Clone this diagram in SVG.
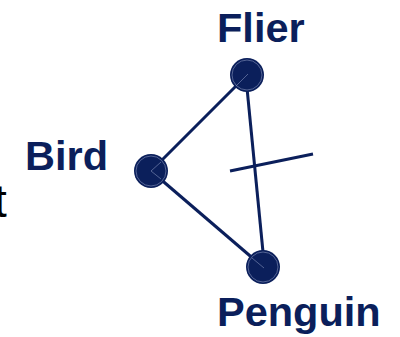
<svg xmlns="http://www.w3.org/2000/svg" width="400" height="337" viewBox="0 0 400 337">
<style>
.lbl{font-family:"Liberation Sans",Arial,sans-serif;font-weight:bold;font-size:41.5px;fill:#0b1f5b}
.edge{stroke:#0b1f5b;stroke-width:3;fill:none;stroke-linecap:butt}
.node{fill:#0b1f5b}
.ring{fill:none;stroke:#8e9bc2;stroke-width:0.7;opacity:0.8}
.inner{stroke:#8e9bc2;stroke-width:0.7;opacity:0.8;fill:none}
</style>
<rect width="400" height="337" fill="#ffffff"/>
<text x="-6" y="217" style="font-family:'Liberation Sans',Arial,sans-serif;font-size:46px;fill:#000">t</text>
<g id="connectors">
<line class="edge" x1="151" y1="171" x2="247" y2="75"/>
<line class="edge" x1="151" y1="171" x2="263" y2="267"/>
<line class="edge" x1="247" y1="88" x2="263" y2="252"/>
<line class="edge" x1="230" y1="171" x2="313" y2="154"/>
</g>
<g id="bird">
<circle class="node" cx="151" cy="171" r="17"/>
<circle class="ring" cx="151" cy="171" r="15"/>
<polyline class="inner" points="161,162 151,171 161,179"/>
<text class="lbl" x="25" y="170">Bird</text>
</g>
<g id="flier">
<circle class="node" cx="247" cy="75" r="17"/>
<circle class="ring" cx="247" cy="75" r="15"/>
<line class="inner" x1="236" y1="86" x2="248" y2="74"/>
<text class="lbl" x="217" y="42">Flier</text>
</g>
<g id="penguin">
<circle class="node" cx="263" cy="267" r="17"/>
<circle class="ring" cx="263" cy="267" r="15"/>
<line class="inner" x1="252" y1="258" x2="264" y2="268"/>
<text class="lbl" x="217" y="326">Penguin</text>
</g>
</svg>
